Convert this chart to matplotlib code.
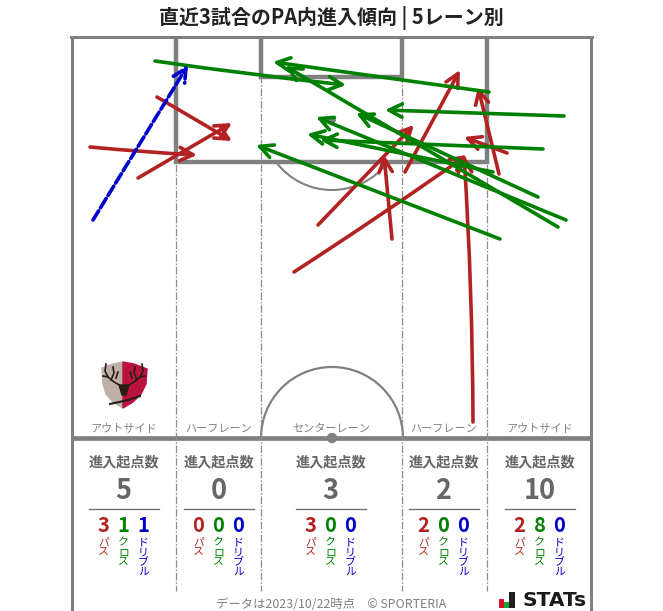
import matplotlib
matplotlib.use("Agg")
import matplotlib.pyplot as plt
from matplotlib.patches import Arc, Circle, Polygon, Rectangle

plt.rcParams["font.family"] = ["Noto Sans CJK JP", "DejaVu Sans"]

TITLE = "直近3試合のPA内進入傾向 | 5レーン別"
FOOTER = "データは2023/10/22時点　© SPORTERIA"

lane_names = ["アウトサイド", "ハーフレーン", "センターレーン", "ハーフレーン", "アウトサイド"]
lane_totals = [5, 0, 3, 2, 10]
pass_counts = [3, 0, 3, 2, 2]
cross_counts = [1, 0, 0, 0, 8]
dribble_counts = [1, 0, 0, 0, 0]

# arrows in picture pixels: start x, start y, end x, end y, curvature
pass_arrows = [
    (90, 147, 197, 155, 0.01),
    (138, 178, 232, 123, 0),
    (157, 97, 232, 141, 0),
    (318, 225, 414, 125, 0),
    (392, 239, 384, 155, 0),
    (405, 172, 460, 70, 0),
    (294, 272, 467, 155, 0.01),
    (473, 422, 464, 155, 0.015),
    (499, 174, 478, 87, 0),
    (507, 153, 464, 137, 0),
]
cross_arrows = [
    (155, 61, 346, 85, 0.01),
    (489, 92, 273, 62, 0),
    (558, 227, 285, 66, 0),
    (564, 116, 385, 110, 0),
    (543, 149, 320, 140, 0),
    (538, 197, 356, 113, 0),
    (566, 220, 316, 117, 0),
    (500, 239, 256, 145, 0),
    (493, 172, 307, 134, 0),
]
dribble_arrows = [
    (93, 220, 188, 65, 0),
]

RED = "#b22222"
GREEN = "#008000"
BLUE = "#0000cd"
LINE = "#808080"
TEXT = "#666666"

lane_x = [124, 219, 331, 444, 540]


def draw_pitch(ax):
    # outer frame
    ax.plot([72, 72], [37, 611], color=LINE, lw=2.2, solid_capstyle="butt")
    ax.plot([591, 591], [37, 611], color=LINE, lw=2.2, solid_capstyle="butt")
    ax.plot([71, 592], [37, 37], color=LINE, lw=2.2)
    ax.plot([72, 591], [438, 438], color=LINE, lw=3.4, solid_capstyle="butt")

    # lanes
    for x in [176, 261, 402, 487]:
        ax.plot([x, x], [37, 591], color="#8c8c8c", lw=0.9, ls=(0, (6, 1.5, 1.2, 1.5)))

    # penalty and goal area
    ax.plot([176, 176, 487, 487], [37, 162, 162, 37], color=LINE, lw=3.2,
            solid_joinstyle="miter", solid_capstyle="butt")
    ax.plot([261, 261, 402, 402], [37, 77, 77, 37], color=LINE, lw=3.2,
            solid_joinstyle="miter", solid_capstyle="butt")

    ax.add_patch(Arc((332, 120), 140, 140, theta1=37, theta2=143, color=LINE, lw=1.5))
    ax.add_patch(Arc((332, 438), 142, 142, theta1=180, theta2=360, color=LINE, lw=1.6))
    ax.add_patch(Circle((332, 120), 3.2, color=LINE, zorder=2))
    ax.add_patch(Circle((332, 438), 4.5, color=LINE, zorder=2))


def draw_arrows(ax, arrows, color, style="-"):
    for x0, y0, x1, y1, rad in arrows:
        ax.annotate(
            "", xy=(x1, y1), xytext=(x0, y0),
            arrowprops=dict(
                arrowstyle="->,head_length=0.95,head_width=0.48",
                color=color, lw=2.6, ls=style, shrinkA=0, shrinkB=0,
                connectionstyle=f"arc3,rad={rad}",
            ),
            zorder=4,
        )


def draw_crest(ax):
    left = [(102, 368), (113, 364), (123, 362), (123, 408), (113, 402), (106, 394), (103, 384)]
    right = [(123, 362), (134, 364), (147, 369), (146, 384), (141, 394), (133, 402), (123, 408)]
    ax.add_patch(Polygon(left, color="#bdb0a6", zorder=3))
    ax.add_patch(Polygon(right, color="#bb1240", zorder=3))
    # antlers and head
    for xs, ys in [
        ([121, 114, 108, 105, 106], [386, 382, 377, 371, 364]),
        ([127, 134, 140, 143, 142], [386, 382, 377, 371, 364]),
        ([108, 103], [377, 376]),
        ([140, 145], [377, 376]),
        ([111, 114, 113], [380, 373, 367]),
        ([137, 134, 135], [380, 373, 367]),
        ([116, 118], [378, 372]),
        ([132, 130], [378, 372]),
    ]:
        ax.plot(xs, ys, color="#2a1d18", lw=1.2, zorder=3.5)
    ax.add_patch(Polygon([(119, 385), (129, 385), (126, 395), (122, 395)],
                         color="#2a1d18", zorder=3.5))
    ax.plot([110, 128, 140], [404, 400, 396], color="#2a1d18", lw=1.5, zorder=3.5)


def draw_counts(ax):
    for i, x in enumerate(lane_x):
        ax.text(x, 428.5, lane_names[i], ha="center", va="center", fontsize=8.0, color="#808080")
        ax.text(x, 462, "進入起点数", ha="center", va="center", fontsize=10.2,
                color=TEXT, fontweight="bold")
        ax.text(x - 0.5, 491, str(lane_totals[i]), ha="center", va="center", fontsize=19.5,
                color=TEXT, fontweight="bold")
        ax.plot([x - 35, x + 35], [508.5, 508.5], color=TEXT, lw=0.9)

        groups = [
            (-20.5, pass_counts[i], "パス", RED),
            (-0.5, cross_counts[i], "クロス", GREEN),
            (19.5, dribble_counts[i], "ドリブル", BLUE),
        ]
        for dx, count, label, color in groups:
            ax.text(x + dx, 526, str(count), ha="center", va="center", fontsize=14.5,
                    color=color, fontweight="bold")
            ax.text(x + dx, 537.5, "\n".join(label), ha="center", va="top", fontsize=7.8,
                    color=color, linespacing=0.98)


def draw_footer(ax):
    ax.text(331, 604, FOOTER, ha="center", va="center", fontsize=8.9, color="#808080")
    for x, w, h, color in [(499, 5, 9, "#d7102a"), (504, 5, 6, "#18a33a"), (509, 6, 16, "#222222")]:
        ax.add_patch(Rectangle((x, 608 - h), w, h, color=color, lw=0))
    ax.text(522, 600, "STATs", ha="left", va="center", fontsize=14.5,
            fontweight="bold", color="#1a1a1a", family="DejaVu Sans")


def main():
    fig = plt.figure(figsize=(6.63, 6.11), dpi=100)
    ax = fig.add_axes([0, 0, 1, 1])
    ax.set_xlim(0, 663)
    ax.set_ylim(611, 0)
    ax.axis("off")

    ax.text(331, 18, TITLE, ha="center", va="center", fontsize=14.4,
            fontweight="bold", color="#222222")

    draw_pitch(ax)
    draw_crest(ax)
    draw_arrows(ax, pass_arrows, RED)
    draw_arrows(ax, cross_arrows, GREEN)
    draw_arrows(ax, dribble_arrows, BLUE, style=(0, (3, 1)))
    draw_counts(ax)
    draw_footer(ax)

    fig.savefig("out.png", dpi=100)


if __name__ == "__main__":
    main()
